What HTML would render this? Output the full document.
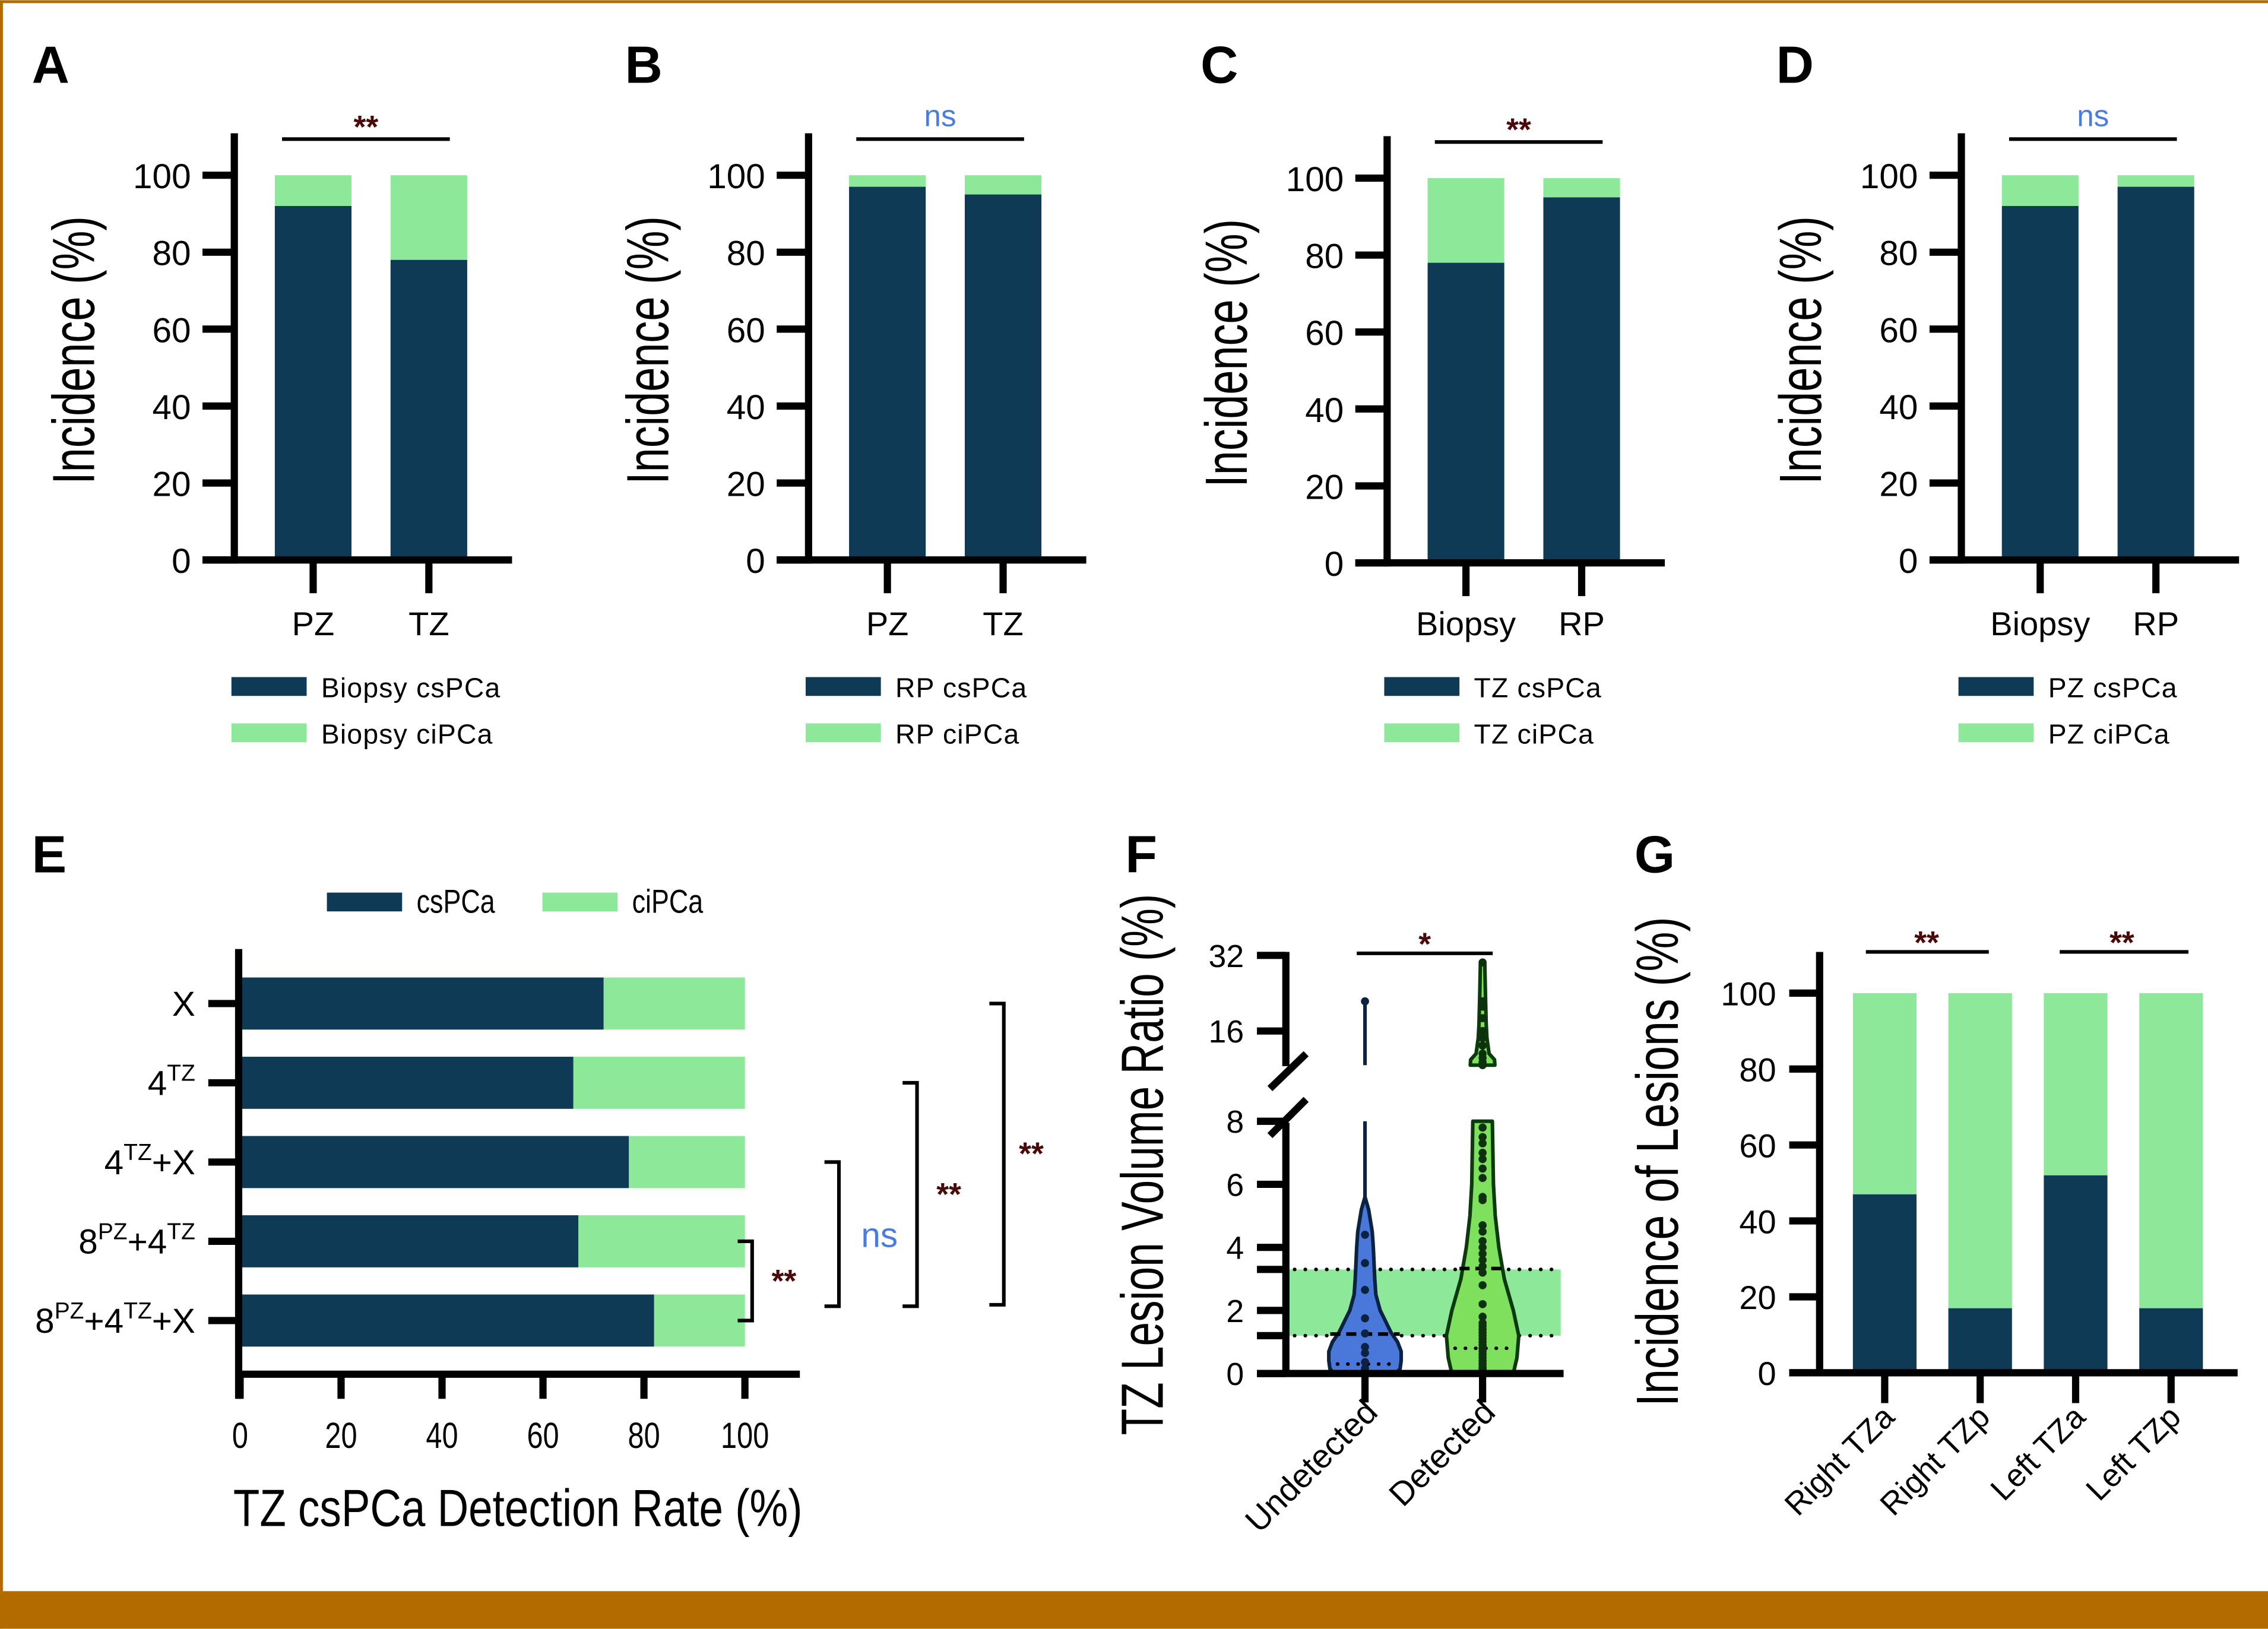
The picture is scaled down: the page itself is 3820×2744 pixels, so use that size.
<!DOCTYPE html>
<html><head><meta charset="utf-8">
<style>
html,body{margin:0;padding:0;background:#fff;}
svg{display:block;}
text{font-family:"Liberation Sans",sans-serif;}
</style></head>
<body>
<svg id="fig" width="3820" height="2744" viewBox="0 0 1568 1126" xmlns="http://www.w3.org/2000/svg">
<rect x="0" y="0" width="1568" height="1126" fill="#fff"/>
<rect x="0" y="0" width="1568" height="2" fill="#b36b00"/>
<rect x="0" y="0" width="2" height="1126" fill="#b36b00"/>
<rect x="0" y="1100" width="1568" height="26" fill="#b36b00"/>
<g id="root"></g>
</svg>
<script>
// ---------- data ----------
const catsA=["PZ","TZ"]; const csA=[92,78];
const catsB=["PZ","TZ"]; const csB=[97,95];
const catsC=["Biopsy","RP"]; const csC=[78,95];
const catsD=["Biopsy","RP"]; const csD=[92,97];
const legA=["Biopsy csPCa","Biopsy ciPCa"];
const legB=["RP csPCa","RP ciPCa"];
const legC=["TZ csPCa","TZ ciPCa"];
const legD=["PZ csPCa","PZ ciPCa"];
const sigA="**", sigB="ns", sigC="**", sigD="ns";
const yTicks=[0,20,40,60,80,100];
const catsE=["X","4TZ","4TZ+X","8PZ+4TZ","8PZ+4TZ+X"];
const csE=[72,66,77,67,82];
const xTicksE=[0,20,40,60,80,100];
const catsG=["Right TZa","Right TZp","Left TZa","Left TZp"];
const csG=[47,17,52,17];
const fLowTicks=[0,2,4,6,8];
const fHighTicks=[16,32];
const undetPts=[0,0.16,0.36,0.65,0.84,1.27,1.75,2.65,3.5,4.4];
const undetHigh=[21];
const detPts=[0,0.05,0.1,0.15,0.2,0.3,0.4,0.5,0.6,0.7,0.8,0.9,1.0,1.1,1.2,1.3,1.4,1.5,1.6,1.8,2.2,2.8,3.2,3.4,3.6,3.8,4.0,4.2,4.5,4.7,5.5,5.6,6.2,6.5,6.8,7.0,7.3,7.5,7.8];
const detHigh=[11.7,12,12.5,13,14,15,16,18,20,21,30];
// violin half-width profiles: [value, relative width]
const undetProfile=[[0,0.85],[0.15,0.97],[0.4,1.0],[0.7,1.0],[1.0,0.9],[1.3,0.72],[1.7,0.55],[2.0,0.42],[2.5,0.3],[3,0.27],[4,0.23],[4.5,0.2],[5.2,0.1],[5.6,0]];
const detProfile=[[0,0.85],[0.5,0.95],[1.2,1.0],[2,0.85],[3,0.6],[4,0.45],[5,0.35],[6,0.3],[8,0.27]];
const detHighProfile=[[11.7,0.34],[12.3,0.33],[13,0.18],[15,0.12],[17,0.1],[22,0.08],[30,0.06]];
const bandLo=1.2, bandHi=3.3;
const undetMed=1.25, undetQ1=0.3, detMed=3.33, detQ1=0.8;

const DARK="#0e3a56", LIGHT="#8ee89a", NS="#4a7be0", SIG="#4a0a0a";
const NS_="http://www.w3.org/2000/svg";
const root=document.getElementById('root');
function el(tag,attrs,parent,txt){const e=document.createElementNS(NS_,tag);for(const k in attrs)e.setAttribute(k,attrs[k]);if(txt!==undefined)e.textContent=txt;(parent||root).appendChild(e);return e;}

// ---------- panels A-D ----------
function stackPanel(letter,lx,ax,y0,y100,cats,cs,leg,sig){
  const g=el('g',{});
  
  
  const ys=v=>y0-(y0-y100)*v/100;
  const t=el('text',{x:lx,y:57,'font-size':36,'font-weight':'bold'},g,letter);
  
  
  cats.forEach((c,i)=>{
    const bx=ax+28+i*80;
    const r1=el('rect',{x:bx,y:ys(100),width:53,height:ys(cs[i])-ys(100),fill:LIGHT},g);
    
    
    const r2=el('rect',{x:bx,y:ys(cs[i]),width:53,height:y0-ys(cs[i]),fill:DARK},g);
    
    
    el('line',{x1:bx+26.5,x2:bx+26.5,y1:y0,y2:y0+23,stroke:'#000','stroke-width':5},g);
    const lt=el('text',{x:bx+26.5,y:439,'font-size':23,'text-anchor':'middle'},g,c);
    
    
  });
  yTicks.forEach(v=>{
    el('line',{x1:ax-22,x2:ax,y1:ys(v),y2:ys(v),stroke:'#000','stroke-width':5},g);
    const tt=el('text',{x:ax-30,y:ys(v)+9,'font-size':24,'text-anchor':'end'},g,String(v));
    
    
  });
  el('line',{x1:ax,x2:ax,y1:y100-29,y2:y0+2.5,stroke:'#000','stroke-width':5},g);
  el('line',{x1:ax-22,x2:ax+192,y1:y0,y2:y0,stroke:'#000','stroke-width':5},g);
  const yt=el('text',{transform:`translate(${ax-97},${(y0+y100)/2-12}) rotate(-90) scale(0.74,1)`,'font-size':41,'text-anchor':'middle'},g,'Incidence (%)');
  
  
  el('line',{x1:ax+33,x2:ax+149,y1:y100-25,y2:y100-25,stroke:'#000','stroke-width':2.5},g);
  const st=el('text',{x:ax+91,y:sig==='ns'?y100-34:y100-26,'font-size':sig==='ns'?21:22,'text-anchor':'middle',fill:sig==='ns'?NS:SIG,'font-weight':sig==='ns'?'normal':'bold'},g,sig);
  
  
  leg.forEach((l,i)=>{
    const ly=475+i*32;
    const sw=el('rect',{x:ax-2,y:ly-7,width:52,height:13,fill:i?LIGHT:DARK},g);
    
    
    const lt=el('text',{x:ax+60,y:ly+7,'font-size':19,'letter-spacing':0.5},g,l);
    
    
  });
}
stackPanel('A',22,162,387,121,catsA,csA,legA,sigA);
stackPanel('B',432,559,387,121,catsB,csB,legB,sigB);
stackPanel('C',830,959,389,123,catsC,csC,legC,sigC);
stackPanel('D',1228,1356,387,121,catsD,csD,legD,sigD);

// ---------- panel E ----------
(function(){
  const g=el('g',{});
  
  
  const x0=166,x100=515,xs=v=>x0+(x100-x0)*v/100;
  const yc=i=>693.7+i*54.8;
  const t=el('text',{x:22,y:603,'font-size':36,'font-weight':'bold'},g,'E');
  
  
  const cond='scale(0.8,1)';
  [['csPCa',DARK,226],['ciPCa',LIGHT,375]].forEach(([n,c,x])=>{
    const sw=el('rect',{x:x,y:617,width:52,height:13,fill:c},g);
    
    
    const lt=el('text',{transform:`translate(${x+62},631) ${cond}`,'font-size':23},g,n);
    
    
  });
  catsE.forEach((c,i)=>{
    const y=yc(i)-18;
    const r1=el('rect',{x:xs(0),y:y,width:xs(100)-xs(0),height:36,fill:LIGHT},g);
    
    
    const r2=el('rect',{x:xs(0),y:y,width:xs(csE[i])-xs(0),height:36,fill:DARK},g);
    
    
    el('line',{x1:144,x2:165,y1:yc(i),y2:yc(i),stroke:'#000','stroke-width':5},g);
    const tt=el('text',{x:135,y:yc(i)+8.5,'font-size':24,'text-anchor':'end'},g);
    
    
    const parts=c.split(/(PZ|TZ)/).filter(p=>p);
    let raised=false;
    parts.forEach(p=>{
      if(p==='PZ'||p==='TZ'){el('tspan',{'font-size':16,dy:-10},tt,p);raised=true;}
      else{const a={'font-size':24};if(raised){a.dy=10;raised=false;}el('tspan',a,tt,p);}
    });
  });
  el('line',{x1:165,x2:165,y1:656,y2:967,stroke:'#000','stroke-width':5},g);
  el('line',{x1:163,x2:553,y1:950,y2:950,stroke:'#000','stroke-width':5},g);
  xTicksE.forEach(v=>{
    el('line',{x1:xs(v),x2:xs(v),y1:950,y2:967,stroke:'#000','stroke-width':5},g);
    const tt=el('text',{transform:`translate(${xs(v)},1001) ${cond}`,'font-size':25,'text-anchor':'middle'},g,String(v));
    
    
  });
  const xt=el('text',{transform:`translate(358,1055) scale(0.83,1)`,'font-size':36,'text-anchor':'middle'},g,'TZ csPCa Detection Rate (%)');
  
  
  const br=[[520,yc(3),yc(4),'**',542,893],[580,yc(2),903,'ns',608,862],[634,yc(1),903,'**',656,833],[694,yc(0),902,'**',713,805]];
  br.forEach(([x,a,b,s,tx,ty])=>{
    const p=el('path',{d:`M${x-10},${a} H${x} V${b} H${x-10}`,fill:'none',stroke:'#000','stroke-width':2.5},g);
    
    
    const st=el('text',{x:tx,y:ty,'font-size':s==='ns'?24:22,'text-anchor':'middle',fill:s==='ns'?NS:SIG,'font-weight':s==='ns'?'normal':'bold'},g,s);
    
    
  });
})();

// ---------- panel F ----------
(function(){
  const g=el('g',{});
  
  
  const ax=889,y0=949.5,per=21.8;
  const yl=v=>y0-v*per;
  const yh=v=>660.4+52.3*(Math.log2(32)-Math.log2(v));
  const yv=v=>v<=8?yl(v):yh(Math.max(v,11.7));
  const t=el('text',{x:778,y:603,'font-size':36,'font-weight':'bold'},g,'F');
  
  
  const band=el('rect',{x:ax,y:yl(bandHi),width:190,height:yl(bandLo)-yl(bandHi),fill:LIGHT},g);
  
  
  [bandLo,bandHi].forEach(v=>el('line',{x1:ax+6,x2:1078,y1:yl(v),y2:yl(v),stroke:'#000','stroke-width':2.5,'stroke-dasharray':'0.1 7.3','stroke-linecap':'round'},g));
  function violin(cx,prof,scale,fill,stroke,nm,yf){
    let d='M'+(cx+prof[0][1]*scale)+','+yf(prof[0][0]);
    prof.forEach(p=>d+=' L'+(cx+p[1]*scale)+','+yf(p[0]));
    for(let i=prof.length-1;i>=0;i--)d+=' L'+(cx-prof[i][1]*scale)+','+yf(prof[i][0]);
    d+='Z';
    const p=el('path',{d:d,fill:fill,stroke:stroke,'stroke-width':2.5,'stroke-linejoin':'round'},g);
    
    
  }
  const ux=943.7,dx=1025;
  el('line',{x1:ux,x2:ux,y1:yl(5.5),y2:yl(8),stroke:'#0b2340','stroke-width':2.5},g);
  el('line',{x1:ux,x2:ux,y1:yh(11.7),y2:yh(undetHigh[0]),stroke:'#0b2340','stroke-width':2.5},g);
  violin(ux,undetProfile,25,'#4a78da','#0b2340','violin-undetected',yl);
  violin(dx,detProfile,25,'#7ee05c','#0d3a0d','violin-detected',yl);
  violin(dx,detHighProfile,25,'#7ee05c','#0d3a0d','violin-detected-upper',yh);
  el('line',{x1:ux-24,x2:ux+24,y1:yl(undetMed),y2:yl(undetMed),stroke:'#000','stroke-width':2.5,'stroke-dasharray':'7 4'},g);
  el('line',{x1:ux-19,x2:ux+19,y1:yl(undetQ1),y2:yl(undetQ1),stroke:'#000','stroke-width':2.5,'stroke-dasharray':'0.1 7','stroke-linecap':'round'},g);
  el('line',{x1:dx-16,x2:dx+16,y1:yl(detMed),y2:yl(detMed),stroke:'#000','stroke-width':2.5,'stroke-dasharray':'7 4'},g);
  el('line',{x1:dx-19,x2:dx+19,y1:yl(detQ1),y2:yl(detQ1),stroke:'#000','stroke-width':2.5,'stroke-dasharray':'0.1 7','stroke-linecap':'round'},g);
  undetPts.concat(undetHigh).forEach(v=>{
    const c=el('circle',{cx:ux,cy:yv(v),r:2.8,fill:'#0b2340'},g);
    
    
  });
  detPts.concat(detHigh).forEach(v=>{
    const c=el('circle',{cx:dx,cy:yv(v),r:2.8,fill:'#0d300d'},g);
    
    
  });
  el('line',{x1:ax,x2:ax,y1:yl(8)+1,y2:y0+2,stroke:'#000','stroke-width':5},g);
  el('line',{x1:ax,x2:ax,y1:658,y2:737,stroke:'#000','stroke-width':5},g);
  el('line',{x1:878,x2:903,y1:752.5,y2:728.4,stroke:'#000','stroke-width':5},g);
  el('line',{x1:878,x2:903,y1:785,y2:760,stroke:'#000','stroke-width':5},g);
  el('line',{x1:869,x2:1081,y1:y0,y2:y0,stroke:'#000','stroke-width':5},g);
  fLowTicks.forEach(v=>{
    el('line',{x1:869,x2:ax,y1:yl(v),y2:yl(v),stroke:'#000','stroke-width':5},g);
    const tt=el('text',{x:860,y:yl(v)+8,'font-size':22,'text-anchor':'end'},g,String(v));
    
    
  });
  el('line',{x1:869,x2:ax,y1:yl(bandHi),y2:yl(bandHi),stroke:'#000','stroke-width':5},g);
  el('line',{x1:869,x2:ax,y1:yl(bandLo),y2:yl(bandLo),stroke:'#000','stroke-width':5},g);
  fHighTicks.forEach(v=>{
    el('line',{x1:869,x2:ax,y1:yh(v),y2:yh(v),stroke:'#000','stroke-width':5},g);
    const tt=el('text',{x:860,y:yh(v)+8,'font-size':22,'text-anchor':'end'},g,String(v));
    
    
  });
  [[ux,'Undetected'],[dx,'Detected']].forEach(([x,s])=>{
    el('line',{x1:x,x2:x,y1:y0,y2:y0+20,stroke:'#000','stroke-width':5},g);
    const tt=el('text',{transform:`translate(${x+10},${y0+28}) rotate(-45)`,'font-size':23,'text-anchor':'end'},g,s);
    
    
  });
  el('line',{x1:938,x2:1032,y1:659,y2:659,stroke:'#000','stroke-width':2.5},g);
  const st=el('text',{x:985,y:660,'font-size':22,'text-anchor':'middle',fill:SIG,'font-weight':'bold'},g,'*');
  
  
  const yt=el('text',{transform:`translate(804,805) rotate(-90) scale(0.73,1)`,'font-size':41,'text-anchor':'middle'},g,'TZ Lesion Volume Ratio (%)');
  
  
})();

// ---------- panel G ----------
(function(){
  const g=el('g',{});
  
  
  const ax=1258,y0=949,y100=686.5;
  const ys=v=>y0-(y0-y100)*v/100;
  const t=el('text',{x:1130,y:603,'font-size':36,'font-weight':'bold'},g,'G');
  
  
  catsG.forEach((c,i)=>{
    const bx=1281+i*66;
    const r1=el('rect',{x:bx,y:ys(100),width:44,height:ys(csG[i])-ys(100),fill:LIGHT},g);
    
    
    const r2=el('rect',{x:bx,y:ys(csG[i]),width:44,height:y0-ys(csG[i]),fill:DARK},g);
    
    
    el('line',{x1:bx+22,x2:bx+22,y1:y0,y2:y0+21,stroke:'#000','stroke-width':5},g);
    const tt=el('text',{transform:`translate(${bx+30},${y0+32}) rotate(-45)`,'font-size':22,'text-anchor':'end'},g,c);
    
    
  });
  yTicks.forEach(v=>{
    el('line',{x1:1237,x2:ax,y1:ys(v),y2:ys(v),stroke:'#000','stroke-width':5},g);
    const tt=el('text',{x:1228,y:ys(v)+8.5,'font-size':23,'text-anchor':'end'},g,String(v));
    
    
  });
  el('line',{x1:ax,x2:ax,y1:658,y2:y0+2,stroke:'#000','stroke-width':5},g);
  el('line',{x1:1237,x2:1547,y1:y0,y2:y0,stroke:'#000','stroke-width':5},g);
  [[1290,1375,1332],[1424,1513,1467]].forEach(([a,b,m])=>{
    el('line',{x1:a,x2:b,y1:658,y2:658,stroke:'#000','stroke-width':2.5},g);
    const st=el('text',{x:m,y:659,'font-size':22,'text-anchor':'middle',fill:SIG,'font-weight':'bold'},g,'**');
    
    
  });
  const yt=el('text',{transform:`translate(1160,803) rotate(-90) scale(0.754,1)`,'font-size':41,'text-anchor':'middle'},g,'Incidence of Lesions (%)');
  
  
})();
</script>
</body></html>
